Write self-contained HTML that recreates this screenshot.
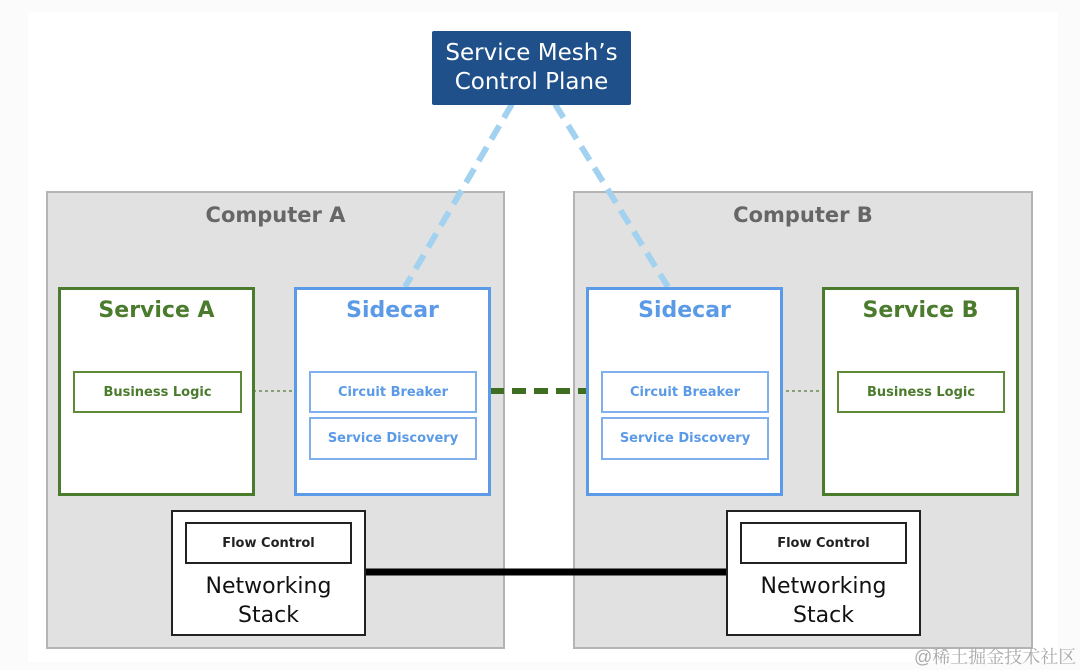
<!DOCTYPE html>
<html><head><style>
body{margin:0;width:1080px;height:670px;background:#fbfbfb;position:relative;overflow:hidden;font-family:"DejaVu Sans","Liberation Sans",sans-serif}
div{position:absolute;box-sizing:border-box}
.c{display:flex;align-items:center;justify-content:center;text-align:center}
.comp{background:#e1e1e1;border:2px solid #b4b4b4}
.ct{font-size:21px;color:#666;width:100%;text-align:center;top:10px;font-weight:bold}
.g{background:#fff;border:3px solid #4b7b2c}
.b{background:#fff;border:3px solid #5b9ae6}
.tg{color:#4b7b2c;font-size:22px;font-weight:bold;width:100%;text-align:center;top:8px}
.tb{color:#5b9ae6;font-size:22px;font-weight:bold;width:100%;text-align:center;top:8px}
.ig{border:2px solid #5e8a3a;color:#4b7b2c;font-size:13px;font-weight:bold;background:#fff}
.ib{border:2px solid #7fb0ec;color:#5b9ae6;font-size:13px;font-weight:bold;background:#fff}
.n{background:#fff;border:2px solid #222}
.f{border:2px solid #222;font-size:13px;font-weight:bold;color:#222}
.nt{font-size:22px;color:#111;width:100%;text-align:center;line-height:29px}
</style></head><body>
<div style="left:28px;top:12px;width:1030px;height:650px;background:#fff"></div>
<div class="comp" style="left:46px;top:191px;width:459px;height:458px"><div class="ct">Computer A</div></div>
<div class="comp" style="left:573px;top:191px;width:460px;height:458px"><div class="ct">Computer B</div></div>
<svg width="1080" height="670" style="position:absolute;left:0;top:0">
<line x1="512" y1="104" x2="405" y2="287" stroke="#a2d2ef" stroke-width="6" stroke-dasharray="16,9"/>
<line x1="555" y1="104" x2="668" y2="287" stroke="#a2d2ef" stroke-width="6" stroke-dasharray="16,9"/>
<line x1="490" y1="391" x2="586" y2="391" stroke="#3f6e22" stroke-width="6" stroke-dasharray="14,8"/>
<line x1="241" y1="391" x2="294" y2="391" stroke="#6b8a55" stroke-width="1.5" stroke-dasharray="3,3"/>
<line x1="768" y1="391" x2="822" y2="391" stroke="#6b8a55" stroke-width="1.5" stroke-dasharray="3,3"/>
<line x1="365" y1="572" x2="726" y2="572" stroke="#000" stroke-width="7"/>
</svg>
<div class="c" style="left:432px;top:31px;width:199px;height:74px;background:#1f5089;color:#fff;font-size:23px;line-height:29px;border-radius:2px">Service Mesh’s<br>Control Plane</div>
<div class="g" style="left:58px;top:287px;width:197px;height:209px"><div class="tg">Service A</div></div>
<div class="ig c" style="left:73px;top:371px;width:169px;height:42px">Business Logic</div>
<div class="b" style="left:294px;top:287px;width:197px;height:209px"><div class="tb">Sidecar</div></div>
<div class="ib c" style="left:309px;top:371px;width:168px;height:42px">Circuit Breaker</div>
<div class="ib c" style="left:309px;top:417px;width:168px;height:43px">Service Discovery</div>
<div class="b" style="left:586px;top:287px;width:197px;height:209px"><div class="tb">Sidecar</div></div>
<div class="ib c" style="left:601px;top:371px;width:168px;height:42px">Circuit Breaker</div>
<div class="ib c" style="left:601px;top:417px;width:168px;height:43px">Service Discovery</div>
<div class="g" style="left:822px;top:287px;width:197px;height:209px"><div class="tg">Service B</div></div>
<div class="ig c" style="left:837px;top:371px;width:168px;height:42px">Business Logic</div>
<div class="n" style="left:171px;top:510px;width:195px;height:126px"><div class="nt" style="top:60px">Networking<br>Stack</div></div>
<div class="f c" style="left:185px;top:522px;width:167px;height:42px">Flow Control</div>
<div class="n" style="left:726px;top:510px;width:195px;height:126px"><div class="nt" style="top:60px">Networking<br>Stack</div></div>
<div class="f c" style="left:740px;top:522px;width:167px;height:42px">Flow Control</div>
<div style="left:914px;top:643px;font-size:18px;color:#aaa;white-space:nowrap;font-family:'Liberation Sans','Noto Serif CJK SC',serif">@稀土掘金技术社区</div>
</body></html>
